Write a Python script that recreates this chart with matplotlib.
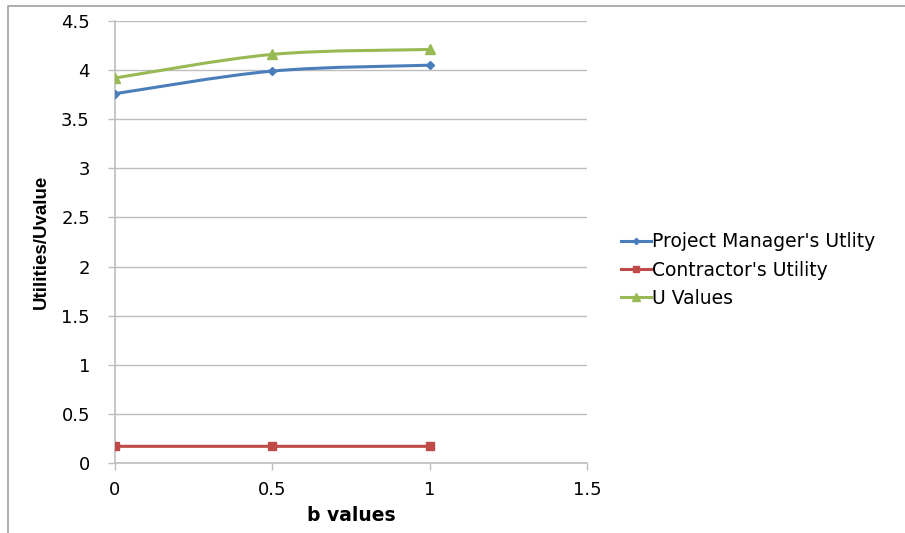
import numpy as np
import matplotlib
matplotlib.use('Agg')
import matplotlib.pyplot as plt
from matplotlib.path import Path
from matplotlib.patches import PathPatch
from matplotlib.lines import Line2D

# data
b_values = [0, 0.5, 1]
pm_utility = [3.76, 3.99, 4.05]
contractor_utility = [0.17, 0.17, 0.17]
u_values = [3.92, 4.16, 4.21]

series_names = ["Project Manager's Utlity", "Contractor's Utility", "U Values"]
x_ticks = [0, 0.5, 1, 1.5]
y_ticks = [0, 0.5, 1, 1.5, 2, 2.5, 3, 3.5, 4, 4.5]

colors = ['#4A7EBB', '#BE4B48', '#98B954']
markers = ['D', 's', '^']
msizes = [4, 6, 6.5]


def smooth_path(xs, ys):
    """
    Excel style smoothed line as a bezier path through the points
    """
    pts = np.column_stack([xs, ys]).astype(float)
    n = len(pts)
    verts = [pts[0]]
    codes = [Path.MOVETO]
    for i in range(n - 1):
        p0 = pts[max(i - 1, 0)]
        p1 = pts[i]
        p2 = pts[i + 1]
        p3 = pts[min(i + 2, n - 1)]
        c1 = p1 + (p2 - p0) / 6
        c2 = p2 - (p3 - p1) / 6
        verts += [c1, c2, p2]
        codes += [Path.CURVE4] * 3
    return Path(verts, codes)


fig = plt.figure(figsize=(9.05, 5.33), dpi=100)
# chart area border, only top and left edges show
fig.add_artist(Line2D([0.009, 0.009, 1.0], [0.0, 0.989, 0.989], transform=fig.transFigure,
                      color='#A0A0A0', linewidth=1.2))
ax = fig.add_axes([0.127, 0.1313, 0.5215, 0.8293])

handles = []
for ys, c, m, ms, name in zip([pm_utility, contractor_utility, u_values], colors, markers, msizes, series_names):
    ax.add_patch(PathPatch(smooth_path(b_values, ys), facecolor='none', edgecolor=c, linewidth=2.2, zorder=3))
    ax.plot(b_values, ys, linestyle='none', marker=m, color=c, markersize=ms, zorder=4)
    handles.append(Line2D([], [], color=c, marker=m, markersize=ms * 0.8, linewidth=2.2))

ax.set_xlim(0, 1.5)
ax.set_ylim(0, 4.5)
ax.set_xticks(x_ticks)
ax.set_xticklabels(['0', '0.5', '1', '1.5'])
ax.set_yticks(y_ticks)
ax.set_yticklabels(['0', '0.5', '1', '1.5', '2', '2.5', '3', '3.5', '4', '4.5'])
ax.yaxis.grid(True, color='#BEBEBE', linewidth=1)
ax.set_axisbelow(True)

for s in ['top', 'right']:
    ax.spines[s].set_visible(False)
for s in ['left', 'bottom']:
    ax.spines[s].set_color('#BEBEBE')
    ax.spines[s].set_linewidth(1.2)
ax.tick_params(axis='both', colors='#BEBEBE', length=5, width=1, labelcolor='black', labelsize=13)
ax.tick_params(axis='y', pad=13)
ax.tick_params(axis='x', pad=8)

ax.set_xlabel('b values', fontsize=13.5, fontweight='bold', labelpad=5)
ax.set_ylabel('Utilities/Uvalue', fontsize=13.5, fontweight='bold', family=['Liberation Sans', 'DejaVu Sans'],
              labelpad=8)

fig.legend(handles, series_names, loc='center left', bbox_to_anchor=(0.667, 0.4934),
           frameon=False, fontsize=13.5, handlelength=1.6, handletextpad=0.1, labelspacing=0.5)

fig.savefig('out.png', dpi=100)
